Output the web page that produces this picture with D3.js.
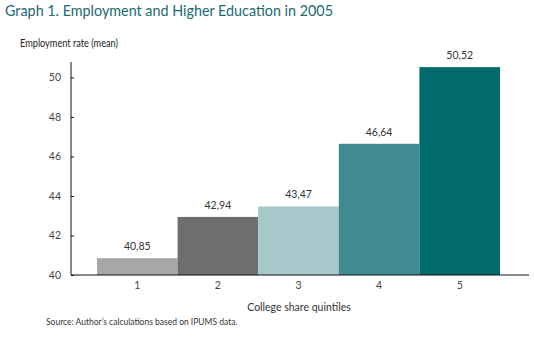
<!DOCTYPE html>
<html>
<head>
<meta charset="utf-8">
<script src="https://cdn.jsdelivr.net/npm/d3@7"></script>
<style>
body { margin: 0; background: #fff; }
text { font-family: Lato, "Open Sans", sans-serif; }
</style>
</head>
<body>
<svg></svg>
<script>
// Chart data
const quintiles = ["1", "2", "3", "4", "5"];
const employment = [40.85, 42.94, 43.47, 46.64, 50.52];
const valueLabels = ["40,85", "42,94", "43,47", "46,64", "50,52"];
const barColors = ["#a7a7a9", "#6e6e70", "#a6c8cb", "#408b90", "#006a6d"];
const yTicks = [40, 42, 44, 46, 48, 50];

const width = 534;
const height = 340;

const svg = d3.select("svg")
.attr("width", width)
.attr("height", height);

// Scales
const x = d3.scaleBand()
.domain(quintiles)
.range([97, 500])
.padding(0);

const yTop = 50.78;
const y = d3.scaleLinear()
.domain([40, yTop])
.range([275, 62]);

// Title
svg.append("text")
.attr("x", 5)
.attr("y", 16)
.attr("fill", "#1b6a72")
.attr("textLength", 328)
.attr("lengthAdjust", "spacingAndGlyphs")
.style("font-size", "16px")
.text("Graph 1. Employment and Higher Education in 2005");

// Y axis label
svg.append("text")
.attr("x", 20)
.attr("y", 47)
.attr("fill", "#222")
.attr("textLength", 98)
.attr("lengthAdjust", "spacingAndGlyphs")
.style("font-size", "10.5px")
.text("Employment rate (mean)");

// Bars
svg.selectAll("rect.bar")
.data(employment)
.enter()
.append("rect")
.attr("class", "bar")
.attr("x", (d, i) => x(quintiles[i]))
.attr("y", d => y(d))
.attr("width", x.bandwidth())
.attr("height", d => y(40) - y(d))
.attr("fill", (d, i) => barColors[i]);

// Value labels
svg.selectAll("text.val")
.data(employment)
.enter()
.append("text")
.attr("class", "val")
.attr("x", (d, i) => x(quintiles[i]) + x.bandwidth() / 2)
.attr("y", d => y(d) - 8)
.attr("text-anchor", "middle")
.attr("fill", "#333")
.style("font-size", "10.5px")
.text((d, i) => valueLabels[i]);

// Y axis (ticks pointing inward)
const yAxis = svg.append("g")
.attr("transform", "translate(71,0)")
.call(d3.axisRight(y).tickValues(yTicks).tickSize(3).tickFormat(d3.format("d")));
yAxis.select(".domain").attr("stroke", "#111").attr("d", `M0,${y(yTop)}V${y(40)}`);
yAxis.selectAll(".tick line").attr("stroke", "#111");
yAxis.selectAll(".tick text")
.attr("x", -10)
.attr("text-anchor", "end")
.attr("fill", "#444")
.style("font-size", "10.5px");

// X axis
const xAxis = svg.append("g")
.attr("transform", `translate(0,${y(40)})`)
.call(d3.axisBottom(x).tickSize(0).tickPadding(7));
xAxis.select(".domain").attr("stroke", "#111").attr("d", "M71,0H529");
xAxis.selectAll(".tick text")
.attr("fill", "#444")
.style("font-size", "10.5px");

// X axis title
svg.append("text")
.attr("x", 299)
.attr("y", 311)
.attr("text-anchor", "middle")
.attr("fill", "#333")
.style("font-size", "10.5px")
.text("College share quintiles");

// Source note
svg.append("text")
.attr("x", 46)
.attr("y", 325)
.attr("fill", "#333")
.style("font-size", "8.5px")
.text("Source: Author’s calculations based on IPUMS data.");
</script>
</body>
</html>
